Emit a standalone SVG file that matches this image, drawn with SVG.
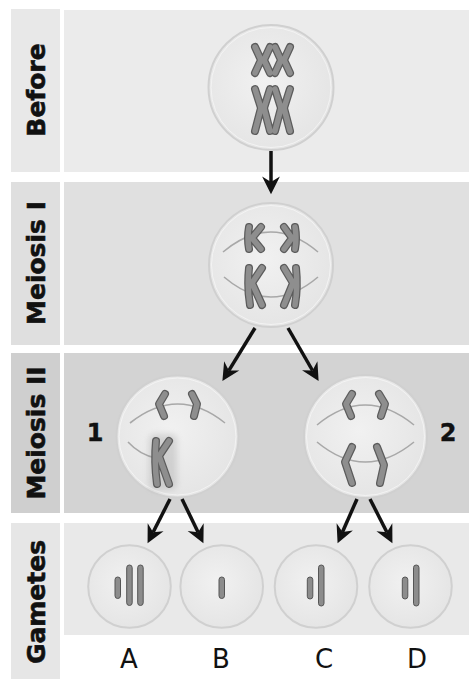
<svg xmlns="http://www.w3.org/2000/svg" xmlns:xlink="http://www.w3.org/1999/xlink" width="469" height="679" viewBox="0 0 469 679">
  <style>
    .stage { font-family: "DejaVu Sans", Verdana, sans-serif; font-weight: bold; font-size: 25px; fill: #111; stroke: #111; stroke-width: 0.6; }
    .num { font-family: "DejaVu Sans", Verdana, sans-serif; font-weight: bold; font-size: 24px; fill: #111; text-anchor: middle; stroke: #111; stroke-width: 0.4; }
    .letter { font-family: "DejaVu Sans", Verdana, sans-serif; font-size: 26px; fill: #111; text-anchor: middle; }
    .cell { fill: url(#cellFill); stroke: #d0d0d0; stroke-width: 2; }
    .cellIn { fill: none; stroke: #f6f6f6; stroke-width: 1; opacity: 0.8; }
    .spindle { fill: none; stroke: #a8a8a8; stroke-width: 1.6; }
    .co { fill: none; stroke: #5c5c5c; stroke-width: 8; stroke-linecap: round; stroke-linejoin: round; }
    .ci { fill: none; stroke: #8e8e8e; stroke-width: 5.5; stroke-linecap: round; stroke-linejoin: round; }
    .bar { fill: #8c8c8c; stroke: #555; stroke-width: 1; }
    .arrow { fill: none; stroke: #111; stroke-width: 3.5; marker-end: url(#head); }
  </style>
  <defs>
    <radialGradient id="cellFill" cx="0.45" cy="0.45" r="0.6">
      <stop offset="0" stop-color="#f1f1f1"/>
      <stop offset="1" stop-color="#e4e4e4"/>
    </radialGradient>
    <filter id="soft" x="-50%" y="-50%" width="200%" height="200%">
      <feGaussianBlur stdDeviation="3"/>
    </filter>
    <marker id="head" markerUnits="userSpaceOnUse" markerWidth="20" markerHeight="20" viewBox="0 -9 17 18" refX="5" refY="0" orient="auto">
      <path d="M16,0 L0,-8 L5,0 L0,8 Z" fill="#111"/>
    </marker>
    <!-- chromosome outlines, drawn twice: dark rim then grey core -->
    <g id="xPairTop">
      <path d="M255,47 L261,60 L255,73 M270,47 L264,60 L270,73 M275,47 L281,60 L275,73 M290,47 L284,60 L290,73"/>
    </g>
    <g id="xPairBottom">
      <path d="M255,89 L261,108 L255,131 M270,89 L264,108 L270,131 M275,89 L281,108 L275,131 M290,89 L284,108 L290,131"/>
    </g>
    <g id="m1Chroms">
      <path d="M249,227 Q247,238 249,249 M261,227 L252,238 L261,249"/>
      <path d="M295,227 Q297,238 295,249 M284,227 L292,238 L284,249"/>
      <path d="M249,268 Q247,287 250,305 M262,268 L252,283 L262,305"/>
      <path d="M296,268 Q298,287 295,305 M284,268 L293,283 L284,305"/>
    </g>
    <g id="m2aChroms">
      <path d="M165,394 L159,404 L164,416"/>
      <path d="M192,394 L197,404 L194,416"/>
      <path d="M156,441 Q154,462 157,484 M169,441 L159,456 L169,484"/>
    </g>
    <g id="m2bChroms">
      <path d="M352,394 L346,404 L351,416"/>
      <path d="M379,394 L385,404 L381,416"/>
      <path d="M352,447 L345,462 L352,483"/>
      <path d="M377,447 L384,465 L380,483"/>
    </g>
  </defs>

  <rect width="469" height="679" fill="#fff"/>

  <!-- stage bands -->
  <g id="bands">
    <rect x="11" y="9" width="49" height="163" fill="#e8e8e8"/>
    <rect x="64" y="10" width="405" height="162" fill="#ebebeb"/>
    <rect x="11" y="182" width="49" height="163" fill="#dfdfdf"/>
    <rect x="64" y="182" width="405" height="163" fill="#e0e0e0"/>
    <rect x="11" y="353" width="49" height="160" fill="#cfcfcf"/>
    <rect x="64" y="353" width="405" height="160" fill="#d3d3d3"/>
    <rect x="11" y="523" width="49" height="156" fill="#e6e6e6"/>
    <rect x="64" y="523" width="405" height="112" fill="#e9e9e9"/>
  </g>

  <g id="stage-labels">
    <text class="stage" text-anchor="middle" transform="translate(45,90) rotate(-90)">Before</text>
    <text class="stage" text-anchor="middle" transform="translate(45,263) rotate(-90)">Meiosis I</text>
    <text class="stage" text-anchor="middle" transform="translate(45,433) rotate(-90)">Meiosis II</text>
    <text class="stage" text-anchor="middle" transform="translate(45,602) rotate(-90)">Gametes</text>
  </g>

  <g id="cell-before">
    <circle class="cell" cx="271" cy="87.5" r="62.5"/>
    <circle class="cellIn" cx="271" cy="87.5" r="60"/>
    <use xlink:href="#xPairTop" class="co"/>
    <use xlink:href="#xPairTop" class="ci"/>
    <use xlink:href="#xPairBottom" class="co"/>
    <use xlink:href="#xPairBottom" class="ci"/>
  </g>

  <g id="cell-meiosis1">
    <circle class="cell" cx="271" cy="265" r="62"/>
    <circle class="cellIn" cx="271" cy="265" r="59.5"/>
    <path class="spindle" d="M223,252 Q271,212 318,252"/>
    <path class="spindle" d="M224,277 Q271,317 318,277"/>
    <use xlink:href="#m1Chroms" class="co"/>
    <use xlink:href="#m1Chroms" class="ci"/>
  </g>

  <g id="cell-meiosis2-1">
    <circle class="cell" cx="177.5" cy="436.5" r="61"/>
    <circle class="cellIn" cx="177.5" cy="436.5" r="58.5"/>
    <path class="spindle" d="M130,423 Q178,385 225,423"/>
    <path class="spindle" d="M128,442 Q140,455 156,458"/>
    <rect x="149" y="434" width="28" height="56" rx="6" fill="#8a8a8a" opacity="0.28" filter="url(#soft)"/>
    <use xlink:href="#m2aChroms" class="co"/>
    <use xlink:href="#m2aChroms" class="ci"/>
    <text class="num" x="95" y="441">1</text>
  </g>

  <g id="cell-meiosis2-2">
    <circle class="cell" cx="365.5" cy="436.5" r="61.5"/>
    <circle class="cellIn" cx="365.5" cy="436.5" r="59"/>
    <path class="spindle" d="M317,425 Q365,385 414,425"/>
    <path class="spindle" d="M317,442 Q365,482 414,442"/>
    <use xlink:href="#m2bChroms" class="co"/>
    <use xlink:href="#m2bChroms" class="ci"/>
    <text class="num" x="448" y="441">2</text>
  </g>

  <g id="gamete-A">
    <circle class="cell" cx="129.5" cy="586.5" r="41.3"/>
    <rect class="bar" x="115" y="577" width="5.5" height="21.5" rx="2.7"/>
    <rect class="bar" x="126.7" y="565" width="5.5" height="40.5" rx="2.7"/>
    <rect class="bar" x="137.7" y="565" width="5.5" height="40.5" rx="2.7"/>
    <text class="letter" x="129" y="668">A</text>
  </g>
  <g id="gamete-B">
    <circle class="cell" cx="221.7" cy="586.5" r="41.3"/>
    <rect class="bar" x="219" y="577" width="5.5" height="21.5" rx="2.7"/>
    <text class="letter" x="221" y="668">B</text>
  </g>
  <g id="gamete-C">
    <circle class="cell" cx="316" cy="586.5" r="41.3"/>
    <rect class="bar" x="307.3" y="577" width="5.5" height="22" rx="2.7"/>
    <rect class="bar" x="318.5" y="565" width="5.5" height="41" rx="2.7"/>
    <text class="letter" x="324" y="668">C</text>
  </g>
  <g id="gamete-D">
    <circle class="cell" cx="410.5" cy="586.5" r="41.3"/>
    <rect class="bar" x="402.3" y="577" width="5.5" height="22" rx="2.7"/>
    <rect class="bar" x="413.5" y="565" width="5.5" height="41" rx="2.7"/>
    <text class="letter" x="417" y="668">D</text>
  </g>

  <g id="connectors">
    <line class="arrow" x1="271" y1="151" x2="271" y2="182"/>
    <line class="arrow" x1="255" y1="328" x2="228.8" y2="370.6"/>
    <line class="arrow" x1="288" y1="328" x2="312.5" y2="370.5"/>
    <line class="arrow" x1="170" y1="499" x2="153.1" y2="532.3"/>
    <line class="arrow" x1="182" y1="499" x2="198.1" y2="532.2"/>
    <line class="arrow" x1="357" y1="499" x2="342.5" y2="532"/>
    <line class="arrow" x1="370" y1="499" x2="386.9" y2="532.3"/>
  </g>
</svg>
